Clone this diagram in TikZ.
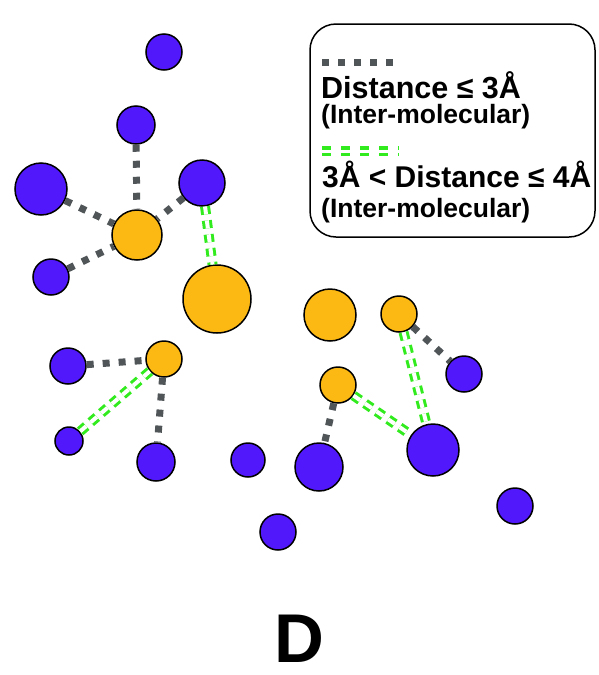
\documentclass[tikz,border=0pt]{standalone}
\usepackage{fontspec}
\setmainfont{Liberation Sans}
\definecolor{purp}{RGB}{80,24,250}
\definecolor{orng}{RGB}{253,185,19}
\definecolor{dgray}{RGB}{80,85,88}
\definecolor{lgreen}{RGB}{50,235,30}
\tikzset{
  atomP/.style={circle,draw=black,line width=1.5pt,fill=purp,inner sep=0pt,minimum size=#1},
  atomO/.style={circle,draw=black,line width=1.5pt,fill=orng,inner sep=0pt,minimum size=#1},
  near3/.style={draw=dgray,line width=7pt,dash pattern=on 7pt off 9pt},
  near4/.style={draw=lgreen,line width=3pt,double=white,double distance=4pt,dash pattern=on 8pt off 6pt},
  near4leg/.style={draw=lgreen,line width=3.5pt,double=white,double distance=3pt,dash pattern=on 9pt off 10pt},
  legtext/.style={anchor=base west,inner sep=0pt,font=\bfseries}
}
\begin{document}
\begin{tikzpicture}[x=1pt,y=-1pt]
\useasboundingbox (0,0) rectangle (598,675);
% atoms
\node[atomP=36pt] (p1) at (164,52) {};
\node[atomP=38pt] (p2) at (136,125) {};
\node[atomP=52pt] (p3) at (41,189) {};
\node[atomP=46pt] (p4) at (202,183) {};
\node[atomO=50pt] (o1) at (137,235) {};
\node[atomP=36pt] (p5) at (51,277) {};
\node[atomO=68pt] (o2) at (217,299) {};
\node[atomP=36pt] (p6) at (68,366) {};
\node[atomO=36pt] (o3) at (164,359) {};
\node[atomP=28pt] (p7) at (69,441) {};
\node[atomP=38pt] (p8) at (156,462) {};
\node[atomP=34pt] (p9) at (248,460) {};
\node[atomP=36pt] (p10) at (278,532) {};
\node[atomO=52pt] (o4) at (330,315) {};
\node[atomO=36pt] (o5) at (399,314) {};
\node[atomP=36pt] (p11) at (464,374) {};
\node[atomO=36pt] (o6) at (338,385) {};
\node[atomP=52pt] (p12) at (433,450) {};
\node[atomP=48pt] (p13) at (319,467) {};
\node[atomP=36pt] (p14) at (515,506) {};
% contacts <= 3 A
\draw[near3] (p2) -- (o1);
\draw[near3] (p3) -- (o1);
\draw[near3] (p4) -- (o1);
\draw[near3] (p5) -- (o1);
\draw[near3] (p6) -- (o3);
\draw[near3] (o3) -- (p8);
\draw[near3] (o5) -- (p11);
\draw[near3] (o6) -- (p13);
% contacts 3-4 A
\draw[near4] (p4) -- (o2);
\draw[near4] (o3) -- (p7);
\draw[near4] (o6) -- (p12);
\draw[near4] (o5) -- (p12);
% legend
\node[draw=black,line width=1.5pt,rounded corners=26pt,minimum width=285pt,minimum height=213pt,inner sep=0pt] (leg) at (452.5,130.5) {};
\coordinate (l1a) at (322,62);
\coordinate (l1b) at (399,62);
\coordinate (l2a) at (322,151);
\coordinate (l2b) at (399,151);
\draw[near3] (l1a) -- (l1b);
\draw[near4leg] (l2a) -- (l2b);
\node[legtext,font=\bfseries\fontsize{30.5}{31}\selectfont] (t1) at (321,98) {Distance ≤ 3Å};
\node[legtext,font=\bfseries\fontsize{26.5}{27}\selectfont] (t2) at (321,123) {(Inter-molecular)};
\node[legtext,font=\bfseries\fontsize{30}{31}\selectfont] (t3) at (322,187) {3Å < Distance ≤ 4Å};
\node[legtext,font=\bfseries\fontsize{26.5}{27}\selectfont] (t4) at (321,217) {(Inter-molecular)};
% panel label
\node[anchor=base,inner sep=0pt,font=\bfseries\fontsize{69}{70}\selectfont] (lab) at (299.5,662) {D};
\end{tikzpicture}
\end{document}
